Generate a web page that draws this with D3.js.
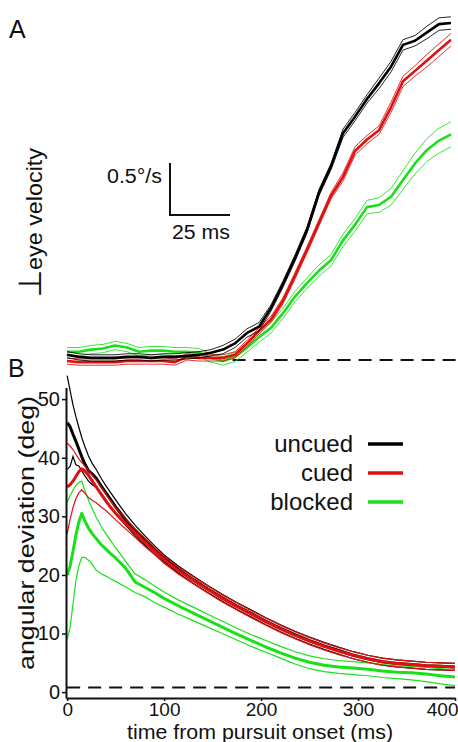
<!DOCTYPE html>
<html>
<head>
<meta charset="utf-8">
<script src="https://cdn.jsdelivr.net/npm/d3@7/dist/d3.min.js"></script>
<style>
  body { margin: 0; background: #fff; }
  svg text { font-family: "Liberation Sans", Arial, Helvetica, sans-serif; fill: #111; }
</style>
</head>
<body>
<div id="chart"></div>
<script>
// ---- panel A: perpendicular eye velocity (deg/s) vs time (ms)
var timeA = [0,5,10,15,20,25,30,35,40,45,50,55,60,65,70,75,80,85,90,95,100,105,110,115,120,125,130,135,140,145,150,155,160];
var uncuedA = [0.05,0.03,0.02,0.02,0.02,0.03,0.03,0.02,0.03,0.03,0.04,0.05,0.07,0.10,0.16,0.26,0.32,0.50,0.73,0.98,1.25,1.61,1.86,2.18,2.34,2.51,2.66,2.82,3.03,3.07,3.15,3.23,3.24];
var uncuedSemA = [0.03,0.03,0.03,0.03,0.03,0.03,0.03,0.03,0.03,0.03,0.03,0.03,0.03,0.04,0.04,0.04,0.04,0.03,0.03,0.03,0.03,0.03,0.03,0.04,0.04,0.04,0.05,0.05,0.05,0.05,0.06,0.06,0.06];
var cuedA = [-0.01,-0.02,-0.02,-0.02,-0.02,-0.01,-0.01,-0.01,-0.01,-0.02,0.03,0.02,0.02,0.02,0.05,0.16,0.28,0.39,0.57,0.81,1.06,1.32,1.58,1.76,2.01,2.12,2.21,2.43,2.68,2.78,2.88,2.98,3.08];
var cuedSemA = [0.03,0.03,0.03,0.03,0.03,0.03,0.03,0.03,0.03,0.03,0.03,0.03,0.03,0.03,0.03,0.03,0.03,0.03,0.03,0.03,0.03,0.03,0.03,0.04,0.04,0.04,0.04,0.05,0.05,0.05,0.06,0.06,0.06];
var blockedA = [0.08,0.08,0.10,0.11,0.14,0.12,0.08,0.09,0.09,0.08,0.08,0.07,0.02,-0.01,0.03,0.12,0.22,0.31,0.45,0.61,0.74,0.86,0.96,1.15,1.30,1.47,1.49,1.57,1.73,1.89,2.02,2.11,2.17];
var blockedSemA = [0.04,0.04,0.04,0.04,0.04,0.04,0.04,0.04,0.04,0.04,0.04,0.04,0.04,0.04,0.045,0.045,0.05,0.05,0.05,0.05,0.05,0.055,0.055,0.06,0.06,0.065,0.07,0.08,0.09,0.1,0.11,0.12,0.12];

// ---- panel B: angular deviation (deg) vs time from pursuit onset (ms)
var timeB = [0,3,6,9,12,15,18,22,26,30,35,40,45,50,60,70,80,90,100,115,130,145,160,175,190,205,220,235,250,265,280,295,310,325,340,355,370,385,400];
var uncuedB = [46,45.3,44,42.8,41.5,40.2,39,37.8,37.2,36.5,35.2,34,32.8,31.6,29.5,27.6,25.9,24.3,22.8,20.9,19.2,17.6,16.1,14.7,13.4,12.1,10.9,9.8,8.8,7.9,7.1,6.3,5.7,5.2,4.9,4.7,4.5,4.4,4.3];
var uncuedHiB = [54,51.5,49,47,45.2,43.5,42,40.3,39,38,36.5,35.2,34,32.8,30.5,28.5,26.7,25,23.4,21.5,19.8,18.2,16.7,15.3,14,12.7,11.5,10.4,9.4,8.5,7.7,6.9,6.3,5.8,5.5,5.3,5.1,5,4.9];
var uncuedLoB = [38,38.5,40.2,38.8,38.6,37.8,37,36,35.4,34.9,33.9,32.8,31.6,30.4,28.5,26.7,25.1,23.6,22.2,20.3,18.6,17,15.5,14.1,12.8,11.5,10.3,9.2,8.2,7.3,6.5,5.7,5.1,4.6,4.3,4.1,3.9,3.8,3.7];
var cuedB = [35,35.4,36,36.8,37.6,38.1,37.8,37,36,35,33.8,32.6,31.5,30.5,28.8,27.2,25.6,24.1,22.6,20.7,19.1,17.5,16,14.6,13.3,12,10.8,9.7,8.7,7.8,7,6.3,5.7,5.2,4.9,4.7,4.5,4.4,4.3];
var cuedHiB = [42.5,42,41.4,40.6,39.8,39.2,38.6,37.9,37,36.2,35,33.8,32.6,31.5,29.6,27.9,26.3,24.7,23.2,21.3,19.7,18.1,16.6,15.2,13.9,12.6,11.4,10.3,9.3,8.4,7.6,6.9,6.3,5.8,5.5,5.3,5.1,5,4.9];
var cuedLoB = [27,29.5,31.5,33,34,34.5,34,33.2,32.7,32.3,31.6,31,30.2,29.4,27.9,26.4,24.9,23.5,22,20.1,18.5,16.9,15.4,14,12.7,11.4,10.2,9.1,8.1,7.2,6.4,5.7,5.1,4.6,4.3,4.1,3.9,3.8,3.7];
var blockedB = [20,21.5,24,26.8,29,30.5,29.3,28,27,26.2,25.2,24.4,23.6,22.9,21.2,18.8,17.9,17,16,14.7,13.5,12.3,11.1,9.9,8.8,7.7,6.7,5.8,5.1,4.6,4.3,4.1,3.9,3.6,3.4,3.3,3.1,2.8,2.6];
var blockedHiB = [32.4,33.5,34.5,35.3,35.8,36,34.5,32.8,31.2,29.8,28.3,27,25.8,24.6,22.4,20.2,19.2,18.1,17.1,15.7,14.5,13.3,12.1,10.9,9.8,8.8,7.8,6.9,6.2,5.7,5.4,5.2,5,4.7,4.5,4.4,4.2,4,3.8];
var blockedLoB = [9,11,15,19,21.5,23,23,22.5,21.8,20.8,20.2,19.8,19.3,18.9,18,17,16.3,15.3,14.5,13.3,12.2,11.1,10,8.9,7.8,6.8,5.8,4.8,4,3.5,3.2,3,2.8,2.5,2.3,2.1,1.8,1.4,1.1];
var chanceB = 0.8;

var xTicksB = [0,100,200,300,400];
var yTicksB = [0,10,20,30,40,50];
var legendNames = ["uncued", "cued", "blocked"];
var colors = {uncued: "#000000", cued: "#e01010", blocked: "#19e019"};

var width = 458, height = 742;
var svg = d3.select("#chart").append("svg")
    .attr("width", width).attr("height", height);

// ---------- panel A
var xA = d3.scaleLinear().domain([0, 25]).range([67, 127]);
var yA = d3.scaleLinear().domain([0, 0.5]).range([360, 308]);
var lineA = d3.line().x(function(d) { return xA(d[0]); }).y(function(d) { return yA(d[1]); });

svg.append("line")   // baseline
    .attr("x1", xA(69)).attr("x2", xA(162))
    .attr("y1", yA(0)).attr("y2", yA(0))
    .attr("stroke", "#111").attr("stroke-width", 2).attr("stroke-dasharray", "13,8");

function drawA(mean, sem, color) {
    var g = svg.append("g");
    [-1, 1].forEach(function(s) {
        g.append("path")
            .attr("d", lineA(timeA.map(function(t, i) { return [t, mean[i] + s * sem[i]]; })))
            .attr("fill", "none").attr("stroke", color).attr("stroke-width", 1).attr("opacity", 0.85);
    });
    g.append("path")
        .attr("d", lineA(timeA.map(function(t, i) { return [t, mean[i]]; })))
        .attr("fill", "none").attr("stroke", color).attr("stroke-width", 2.6)
        .attr("stroke-linejoin", "round");
}
drawA(blockedA, blockedSemA, colors.blocked);
drawA(cuedA, cuedSemA, colors.cued);
drawA(uncuedA, uncuedSemA, colors.uncued);

// scale bar
var barX = 170, barY = 215;
svg.append("path")
    .attr("d", "M" + barX + "," + (barY - (yA(0) - yA(0.5))) + "V" + barY + "H" + (barX + xA(25) - xA(0)))
    .attr("fill", "none").attr("stroke", "#111").attr("stroke-width", 2);
svg.append("text").attr("x", 162).attr("y", 183).attr("text-anchor", "end")
    .attr("font-size", 20).attr("textLength", 55).attr("lengthAdjust", "spacingAndGlyphs").text("0.5°/s");
svg.append("text").attr("x", 172).attr("y", 239)
    .attr("font-size", 20).attr("textLength", 58).attr("lengthAdjust", "spacingAndGlyphs").text("25 ms");

// y label of A
svg.append("text").attr("transform", "translate(41,283.5) rotate(-90)")
    .attr("text-anchor", "middle").attr("font-size", 32)
    .style("font-family", "'DejaVu Sans', sans-serif").text("⊥");
svg.append("text").attr("transform", "translate(42,270) rotate(-90)")
    .attr("font-size", 22).attr("textLength", 122).attr("lengthAdjust", "spacingAndGlyphs")
    .text("eye velocity");

svg.append("text").attr("x", 9).attr("y", 38).attr("font-size", 25).text("A");
svg.append("text").attr("x", 8).attr("y", 377).attr("font-size", 25).text("B");

// ---------- panel B
var xB = d3.scaleLinear().domain([-1.2, 400]).range([66, 455]);
var yB = d3.scaleLinear().domain([-1, 52]).range([698, 387.4]);
var lineB = d3.line().x(function(d) { return xB(d[0]); }).y(function(d) { return yB(d[1]); });

svg.append("line")
    .attr("x1", xB(0)).attr("x2", xB(400))
    .attr("y1", yB(chanceB)).attr("y2", yB(chanceB))
    .attr("stroke", "#111").attr("stroke-width", 2).attr("stroke-dasharray", "13,8");

function drawB(mean, lo, hi, color) {
    var g = svg.append("g");
    [lo, hi].forEach(function(arr) {
        g.append("path")
            .attr("d", lineB(timeB.map(function(t, i) { return [t, arr[i]]; })))
            .attr("fill", "none").attr("stroke", color).attr("stroke-width", 1.2);
    });
    g.append("path")
        .attr("d", lineB(timeB.map(function(t, i) { return [t, mean[i]]; })))
        .attr("fill", "none").attr("stroke", color).attr("stroke-width", 3)
        .attr("stroke-linejoin", "round");
}
drawB(uncuedB, uncuedLoB, uncuedHiB, colors.uncued);
drawB(blockedB, blockedLoB, blockedHiB, colors.blocked);
drawB(cuedB, cuedLoB, cuedHiB, colors.cued);

var axL = svg.append("g").attr("transform", "translate(66,0)")
    .call(d3.axisLeft(yB).tickValues(yTicksB).tickSize(4).tickPadding(2).tickSizeOuter(0));
var axB = svg.append("g").attr("transform", "translate(0,698)")
    .call(d3.axisBottom(xB).tickValues(xTicksB).tickSize(3).tickPadding(2).tickSizeOuter(0));
[axL, axB].forEach(function(ax) {
    ax.select(".domain").attr("stroke-width", 2).attr("stroke", "#111");
    ax.selectAll(".tick line").attr("stroke-width", 1.5).attr("stroke", "#111");
    ax.selectAll("text").attr("font-size", 20).attr("font-family", "Liberation Sans, Arial, sans-serif").attr("fill", "#111");
});
axB.selectAll("text").attr("font-size", 19);
axB.selectAll(".tick").filter(function(d) { return d === 400; }).select("text")
    .attr("text-anchor", "end").attr("dx", 3);

svg.append("text").attr("x", 260).attr("y", 739).attr("text-anchor", "middle")
    .attr("font-size", 20).attr("textLength", 266).attr("lengthAdjust", "spacingAndGlyphs")
    .text("time from pursuit onset (ms)");
svg.append("text").attr("transform", "translate(34,533) rotate(-90)").attr("text-anchor", "middle")
    .attr("font-size", 22).attr("textLength", 274).attr("lengthAdjust", "spacingAndGlyphs")
    .text("angular deviation (deg)");

// legend
var leg = svg.append("g").selectAll("g").data(legendNames).enter().append("g")
    .attr("transform", function(d, i) { return "translate(0," + (444 + i * 29) + ")"; });
leg.append("text").attr("x", 353).attr("y", 8).attr("text-anchor", "end")
    .attr("font-size", 24).text(function(d) { return d; });
leg.append("line").attr("x1", 368).attr("x2", 403)
    .attr("stroke", function(d) { return colors[d]; }).attr("stroke-width", 3.5);
</script>
</body>
</html>
